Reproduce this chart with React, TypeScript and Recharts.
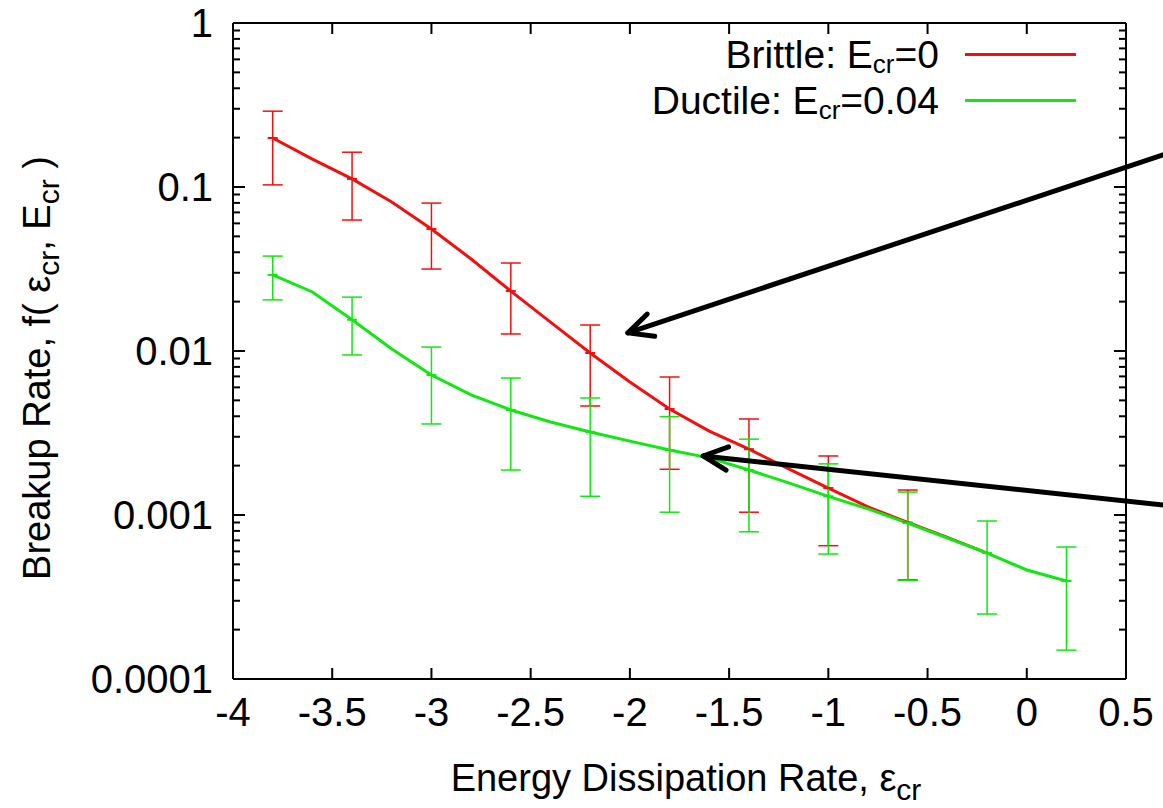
import React from 'react';
import {
  LineChart, Line, XAxis, YAxis, ErrorBar, Legend, ReferenceLine,
} from 'recharts';

const FONT = '"Liberation Sans", Arial, Helvetica, sans-serif';
const RED = '#f01010';
const GREEN = '#14e614';

// x ticks and decade ticks of the log axis
const xTicks = [-4, -3.5, -3, -2.5, -2, -1.5, -1, -0.5, 0, 0.5];
const yMajorTicks = [0.0001, 0.001, 0.01, 0.1, 1];

// curve samples (every 0.2)
const lineX = [-3.8, -3.6, -3.4, -3.2, -3.0, -2.8, -2.6, -2.4, -2.2, -2.0, -1.8, -1.6, -1.4, -1.2, -1.0, -0.8, -0.6, -0.4, -0.2, 0.0, 0.2];
const brittleVals = [0.199, 0.148, 0.112, 0.081, 0.0555, 0.0364, 0.0232, 0.015, 0.00972, 0.00647, 0.00443, 0.00325, 0.00252, 0.00191, 0.00146, 0.00112, 0.0009, 0.00073, 0.000586];
const ductileVals = [0.0291, 0.0229, 0.0155, 0.0103, 0.00714, 0.0054, 0.00437, 0.00369, 0.00321, 0.00282, 0.00249, 0.00223, 0.00188, 0.00157, 0.0013, 0.00109, 0.000893, 0.000724, 0.000586, 0.000462, 0.000396];

// error bars (every 0.4)
const errX = [-3.8, -3.4, -3.0, -2.6, -2.2, -1.8, -1.4, -1.0, -0.6, -0.2, 0.2];
const brittleLow = [0.103, 0.0629, 0.0316, 0.0127, 0.00462, 0.0019, 0.00104, 0.00065, 0.000402];
const brittleHigh = [0.29, 0.163, 0.0798, 0.0344, 0.0144, 0.00694, 0.00385, 0.00229, 0.00142];
const ductileLow = [0.0205, 0.00946, 0.00359, 0.00188, 0.0013, 0.00104, 0.00079, 0.000578, 0.000399, 0.000249, 0.00015];
const ductileHigh = [0.0379, 0.0213, 0.01057, 0.00684, 0.00517, 0.00398, 0.0029, 0.00205, 0.00138, 0.000919, 0.000638];

const brittleLine = brittleVals.map((y, i) => ({ x: lineX[i], y }));
const ductileLine = ductileVals.map((y, i) => ({ x: lineX[i], y }));
const brittleErr = brittleLow.map((lo, i) => {
  const y = brittleVals[i * 2];
  return { x: errX[i], y, err: [y - lo, brittleHigh[i] - y] };
});
const ductileErr = ductileLow.map((lo, i) => {
  const y = ductileVals[i * 2];
  return { x: errX[i], y, err: [y - lo, ductileHigh[i] - y] };
});

// log axis: decades plus 2..9 minors
const yTicks: number[] = [];
yMajorTicks.forEach((t, i) => {
  yTicks.push(t);
  if (i < yMajorTicks.length - 1) for (let m = 2; m <= 9; m++) yTicks.push(+(t * m).toPrecision(3));
});
const isMajor = (v: number) => Math.abs(Math.log10(v) - Math.round(Math.log10(v))) < 1e-6;

const legendItems = [
  { name: 'Brittle: E', value: '=0', color: RED },
  { name: 'Ductile: E', value: '=0.04', color: GREEN },
];

// annotation arrows (tail -> head), in data units
const arrows = [
  { from: { x: 0.7, y: 0.159 }, to: { x: -2.01, y: 0.0129 } },
  { from: { x: 0.7, y: 0.001146 }, to: { x: -1.631, y: 0.00229 } },
];

const BottomTick = ({ x, y, payload }: any) => (
  <g>
    <line x1={x} y1={y} x2={x} y2={y - 11} stroke="#000" strokeWidth={2} />
    <text x={x} y={y + 47} textAnchor="middle" fontSize={40} fontFamily={FONT} fill="#000">
      {payload.value}
    </text>
  </g>
);

const TopTick = ({ x, y }: any) => (
  <line x1={x} y1={y} x2={x} y2={y + 11} stroke="#000" strokeWidth={2} />
);

const LeftTick = ({ x, y, payload }: any) => {
  const major = isMajor(payload.value);
  return (
    <g>
      <line x1={x} y1={y} x2={x + (major ? 12 : 7)} y2={y} stroke="#000" strokeWidth={2} />
      {major && (
        <text x={x - 20} y={y + 14} textAnchor="end" fontSize={40} fontFamily={FONT} fill="#000">
          {String(payload.value)}
        </text>
      )}
    </g>
  );
};

const RightTick = ({ x, y, payload }: any) => {
  const major = isMajor(payload.value);
  return <line x1={x} y1={y} x2={x - (major ? 12 : 7)} y2={y} stroke="#000" strokeWidth={2} />;
};

const Sub = ({ children }: { children: React.ReactNode }) => (
  <tspan dy={9} fontSize={30}>{children}</tspan>
);

const XLabel = ({ viewBox }: any) => (
  <text x={686} y={viewBox.y + 112} textAnchor="middle" fontSize={38} fontFamily={FONT} fill="#000">
    Energy Dissipation Rate, ε<Sub>cr</Sub>
  </text>
);

const YLabel = () => (
  <text x={0} y={0} transform="translate(50, 368) rotate(-90)" textAnchor="middle" fontSize={38} fontFamily={FONT} fill="#000">
    Breakup Rate, f( ε<Sub>cr</Sub><tspan dy={-9}>, E</tspan><Sub>cr</Sub><tspan dy={-9}> )</tspan>
  </text>
);

const ArrowShape = (props: any) => {
  const { x1, y1, x2, y2 } = props;
  const a = Math.atan2(y1 - y2, x1 - x2);
  const len = 27, spread = 0.45;
  return (
    <g stroke="#000" strokeWidth={5} strokeLinecap="round" strokeLinejoin="round" fill="none">
      <line x1={x1} y1={y1} x2={x2} y2={y2} />
      <polyline
        points={`${x2 + len * Math.cos(a + spread)},${y2 + len * Math.sin(a + spread)} ${x2},${y2} ${x2 + len * Math.cos(a - spread)},${y2 + len * Math.sin(a - spread)}`}
      />
    </g>
  );
};

const TickDot = (color: string) => (p: any) => (
  <line key={`d${p.index}`} x1={p.cx - 5} x2={p.cx + 5} y1={p.cy} y2={p.cy} stroke={color} strokeWidth={2} />
);

const LegendBox = () => (
  <div style={{ fontFamily: FONT, fontSize: 39, color: '#000', lineHeight: 1 }}>
    {legendItems.map((it) => (
      <div key={it.name} style={{ display: 'flex', alignItems: 'center', justifyContent: 'flex-end', height: 46 }}>
        <span style={{ whiteSpace: 'nowrap' }}>
          {it.name}
          <span style={{ fontSize: 26, position: 'relative', top: 5 }}>cr</span>
          {it.value}
        </span>
        <span style={{ display: 'inline-block', width: 111, height: 3, background: it.color, marginLeft: 26 }} />
      </div>
    ))}
  </div>
);

export default function App() {
  return (
    <div style={{ position: 'absolute', left: 0, top: 0, width: 1163, height: 808, background: '#fff', overflow: 'hidden' }}>
      <LineChart width={1163} height={808} margin={{ top: 0, right: 0, bottom: 0, left: 0 }}>
        <XAxis
          xAxisId="b" type="number" dataKey="x" domain={[-4, 0.5]} ticks={xTicks} interval={0}
          allowDataOverflow height={129} tickSize={0} tickMargin={0} tickLine={false}
          axisLine={{ stroke: '#000', strokeWidth: 2 }} tick={<BottomTick />} label={<XLabel />}
        />
        <XAxis
          xAxisId="t" orientation="top" type="number" dataKey="x" domain={[-4, 0.5]} ticks={xTicks} interval={0}
          allowDataOverflow height={23} tickSize={0} tickMargin={0} tickLine={false}
          axisLine={{ stroke: '#000', strokeWidth: 2 }} tick={<TopTick />}
        />
        <YAxis
          yAxisId="l" type="number" scale="log" domain={[0.0001, 1]} ticks={yTicks} interval={0}
          allowDataOverflow width={233} tickSize={0} tickMargin={0} tickLine={false}
          axisLine={{ stroke: '#000', strokeWidth: 2 }} tick={<LeftTick />} label={<YLabel />}
        />
        <YAxis
          yAxisId="r" orientation="right" type="number" scale="log" domain={[0.0001, 1]} ticks={yTicks} interval={0}
          allowDataOverflow width={37} tickSize={0} tickMargin={0} tickLine={false}
          axisLine={{ stroke: '#000', strokeWidth: 2 }} tick={<RightTick />}
        />

        <Line xAxisId="b" yAxisId="l" data={brittleLine} dataKey="y" type="linear" stroke={RED} strokeWidth={3}
          dot={false} isAnimationActive={false} name="brittle" />
        <Line xAxisId="b" yAxisId="l" data={brittleErr} dataKey="y" stroke="none" dot={TickDot(RED)}
          isAnimationActive={false} legendType="none" name="brittleErr">
          <ErrorBar dataKey="err" width={10} stroke={RED} strokeWidth={1.5} direction="y" isAnimationActive={false} />
        </Line>
        <Line xAxisId="b" yAxisId="l" data={ductileLine} dataKey="y" type="linear" stroke={GREEN} strokeWidth={3}
          dot={false} isAnimationActive={false} name="ductile" />
        <Line xAxisId="b" yAxisId="l" data={ductileErr} dataKey="y" stroke="none" dot={TickDot(GREEN)}
          isAnimationActive={false} legendType="none" name="ductileErr">
          <ErrorBar dataKey="err" width={10} stroke={GREEN} strokeWidth={1.5} direction="y" isAnimationActive={false} />
        </Line>

        {arrows.map((a, i) => (
          <ReferenceLine key={i} xAxisId="b" yAxisId="l" segment={[a.from, a.to]} ifOverflow="visible" shape={ArrowShape} />
        ))}

        <Legend
          layout="vertical" align="center" verticalAlign="middle" content={<LegendBox />}
          wrapperStyle={{ left: 540, top: 31, width: 536 }}
        />
      </LineChart>
    </div>
  );
}
